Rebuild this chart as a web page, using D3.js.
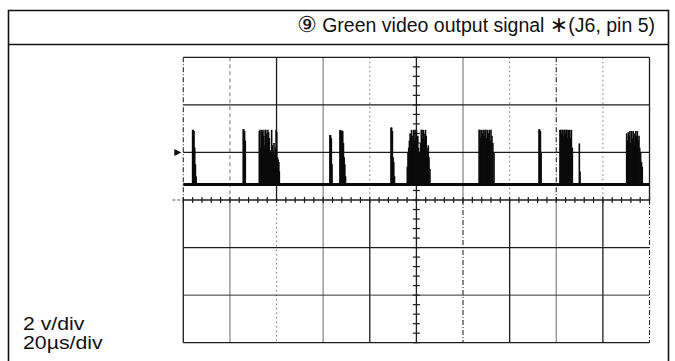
<!DOCTYPE html>
<html>
<head>
<meta charset="utf-8">
<script src="https://cdn.jsdelivr.net/npm/d3@7"></script>
<style>
  html, body { margin: 0; padding: 0; background: #fff; }
  svg { display: block; }
  text { font-family: "Liberation Sans", Arial, sans-serif; fill: #111; }
</style>
</head>
<body>
<svg id="scope" width="675" height="361"></svg>
<script>
// ---- Waveform data (time in µs, level in volts relative to the centre line) ----
const timeDomain = [0, 200];      // 10 div × 20 µs/div
const voltDomain = [-6, 6];       // 6 div × 2 V/div
const baselineVolts = 0.65;       // resting level of the trace
const markerVolts = 2;            // channel reference marker on the left edge

// isolated pulses: [t, peak]
const singlePulses = [
  [4.0, 2.95], [4.3, 2.95], [4.6, 2.9], [4.9, 2.2], [5.2, 1.5], [5.5, 1.0],
  [25.7, 2.98], [26.0, 2.98], [26.3, 2.9], [26.6, 2.5],
  [62.9, 2.73], [63.2, 2.73], [63.5, 2.6], [63.8, 1.5],
  [67.2, 2.94], [67.5, 2.94], [67.8, 2.85], [68.1, 2.92], [68.4, 2.9], [68.7, 2.4], [69.0, 1.8], [69.3, 1.5], [69.6, 1.0],
  [89.1, 3.05], [89.4, 3.05], [89.7, 2.9], [90.0, 1.8], [90.3, 1.6], [90.6, 1.0],
  [152.6, 2.97], [152.9, 2.97], [153.2, 2.9], [153.5, 2.0],
  [169.9, 2.38], [170.2, 1.2]
];

// dense bursts: [t, peak]
const burstA = [
  [32.6, 2.9], [32.9, 2.95], [33.3, 2.2], [33.6, 2.95], [33.9, 2.85], [34.2, 2.95], [34.5, 2.7],
  [34.8, 2.3], [35.1, 2.95], [35.4, 2.95], [35.7, 2.8], [36.0, 2.4], [36.3, 2.95], [36.6, 2.85],
  [36.9, 2.6], [37.2, 2.1], [37.5, 2.0], [37.9, 2.95], [38.2, 2.3], [38.6, 2.0], [38.9, 2.4],
  [39.2, 1.9], [39.5, 2.2], [39.8, 2.95], [40.1, 2.85], [40.4, 1.8], [40.7, 1.7], [41.0, 1.6], [41.2, 1.2]
];
const burstB = [
  [96.1, 1.4], [96.4, 2.0], [96.7, 2.2], [97.0, 2.5], [97.3, 2.8], [97.6, 2.6], [97.9, 2.95],
  [98.2, 2.4], [98.5, 2.7], [98.8, 2.95], [99.1, 2.5], [99.4, 2.95], [99.7, 2.6], [100.0, 2.95],
  [100.3, 2.3], [100.6, 2.7], [100.9, 2.2], [101.2, 2.0], [101.5, 1.9], [101.8, 2.4], [102.1, 2.95],
  [102.4, 2.95], [102.7, 2.6], [103.0, 2.95], [103.3, 2.8], [103.6, 2.5], [103.9, 2.95], [104.2, 2.7],
  [104.5, 2.2], [104.8, 2.0], [105.1, 2.3], [105.4, 1.8], [105.8, 1.3]
];
const burstC = [
  [126.9, 2.95], [127.3, 2.95], [127.6, 2.6], [128.0, 2.95], [128.3, 2.8], [128.7, 2.95],
  [129.1, 2.7], [129.4, 2.95], [129.8, 2.95], [130.2, 2.6], [130.5, 2.95], [130.9, 2.8],
  [131.3, 2.95], [131.6, 2.5], [132.0, 2.95], [132.4, 2.7], [132.8, 2.4], [133.3, 2.0]
];
const burstD = [
  [161.6, 2.95], [161.9, 2.95], [162.2, 2.8], [162.5, 2.95], [162.8, 2.95], [163.1, 2.7],
  [163.4, 2.95], [163.7, 2.95], [164.0, 2.8], [164.3, 2.95], [164.6, 2.95], [164.9, 2.6],
  [165.2, 2.95], [165.5, 2.8], [165.8, 2.95], [166.1, 2.6], [166.5, 2.95], [166.9, 2.2]
];
const burstE = [
  [190.2, 2.8], [190.6, 2.5], [190.9, 2.85], [191.3, 2.7], [191.6, 2.9], [192.0, 2.4],
  [192.3, 2.9], [192.7, 2.6], [193.0, 2.9], [193.4, 2.8], [193.7, 2.3], [194.1, 2.9],
  [194.4, 2.7], [194.8, 2.9], [195.1, 2.5], [195.5, 2.7], [195.8, 2.2], [196.2, 2.0],
  [196.6, 1.6], [196.9, 1.4]
];

// graticule line styles (upper half, lower half) for each vertical line; one per horizontal line
const verticalStyles = [
  ["dashDark", "solid"], ["dashGray", "gray"], ["solid", "dot"], ["gray", "gray"],
  ["dot", "solid"], ["solid", "solid"], ["gray", "dashDark"], ["dot", "solid"],
  ["dashDark", "gray"], ["dot", "solid"], ["solid", "dashDark"]
];
const horizontalStyles = ["solid", "solid", "solid", "solid", "solid", "solidThin", "solid"];

const titleText = "Green video output signal ";
const voltsLabel = "2 v/div";
const timeLabel = "20µs/div";

// ---- Drawing ----
const svg = d3.select("#scope");
const W = 675, H = 361;

const x = d3.scaleLinear().domain(timeDomain).range([183.3, 649.5]);
const y = d3.scaleLinear().domain(voltDomain).range([342.7, 57.3]);

const styleDefs = {
  solid:     { stroke: "#1c1c1c", width: 1.3, dash: null },
  solidThin: { stroke: "#333",    width: 1.0, dash: null },
  gray:      { stroke: "#8c8c8c", width: 1.3, dash: null },
  dashDark:  { stroke: "#2a2a2a", width: 1.1, dash: "5,2,1,2" },
  dashGray:  { stroke: "#8c8c8c", width: 1.2, dash: "4,3" },
  dot:       { stroke: "#777",    width: 1.0, dash: "1.5,3" }
};
function applyStyle(sel, key) {
  const s = styleDefs[key];
  sel.attr("stroke", s.stroke).attr("stroke-width", s.width)
     .attr("stroke-dasharray", s.dash);
}

svg.append("rect").attr("width", W).attr("height", H).attr("fill", "#fff");

// outer frame and title bar
const frame = svg.append("g").attr("fill", "none").attr("stroke", "#111").attr("stroke-width", 1.6);
frame.append("path").attr("d", `M8.5,${H + 2} V10.5 H668.5 V${H + 2}`);
frame.append("line").attr("x1", 8.5).attr("x2", 668.5).attr("y1", 44.5).attr("y2", 44.5);

// graticule
const grid = svg.append("g").attr("fill", "none");
const xDivs = d3.range(timeDomain[0], timeDomain[1] + 0.001, 20);
const yDivs = d3.range(voltDomain[0], voltDomain[1] + 0.001, 2);
xDivs.forEach((t, i) => {
  grid.append("line").attr("x1", x(t)).attr("x2", x(t)).attr("y1", y(6)).attr("y2", y(0))
      .call(applyStyle, verticalStyles[i][0]);
  grid.append("line").attr("x1", x(t)).attr("x2", x(t)).attr("y1", y(0)).attr("y2", y(-6))
      .call(applyStyle, verticalStyles[i][1]);
});
yDivs.slice().reverse().forEach((v, j) => {
  grid.append("line").attr("x1", x(0)).attr("x2", x(200)).attr("y1", y(v)).attr("y2", y(v))
      .call(applyStyle, horizontalStyles[j]);
});
// centre line stub to the left of the graticule
grid.append("line").attr("x1", x(0) - 11).attr("x2", x(0)).attr("y1", y(0)).attr("y2", y(0))
    .attr("stroke", "#555").attr("stroke-width", 1).attr("stroke-dasharray", "3,2");

// minor ticks on the centre axes (5 per division)
const ticks = svg.append("g").attr("stroke", "#1c1c1c").attr("stroke-width", 1.2);
d3.range(0, 200.001, 4).forEach(t => {
  ticks.append("line").attr("x1", x(t)).attr("x2", x(t)).attr("y1", y(0) - 3).attr("y2", y(0) + 3);
});
d3.range(-6, 6.001, 0.4).forEach(v => {
  ticks.append("line").attr("x1", x(100) - 3.5).attr("x2", x(100) + 3.5).attr("y1", y(v)).attr("y2", y(v));
});

// reference marker
svg.append("path")
  .attr("d", `M${x(0) - 9},${y(markerVolts) - 3.5} L${x(0) - 2},${y(markerVolts)} L${x(0) - 9},${y(markerVolts) + 3.5} Z`)
  .attr("fill", "#111");

// trace: resting level plus vertical pulse strokes
const trace = svg.append("g").attr("stroke", "#0a0a0a").attr("fill", "none");
const lineGen = d3.line().x(d => x(d[0])).y(d => y(d[1]));
trace.append("path").attr("d", lineGen([[timeDomain[0], baselineVolts], [timeDomain[1], baselineVolts]]))
     .attr("stroke-width", 3);
const spikes = [].concat(singlePulses, burstA, burstB, burstC, burstD, burstE);
trace.selectAll("line.spike").data(spikes).join("line").attr("class", "spike")
  .attr("x1", d => x(d[0])).attr("x2", d => x(d[0]))
  .attr("y1", y(baselineVolts)).attr("y2", d => y(d[1]))
  .attr("stroke-width", 1.6);

// title
const title = svg.append("text").attr("x", 655).attr("y", 32).attr("text-anchor", "end")
  .style("font-size", "19.5px");
title.append("tspan").style("font-family", "'DejaVu Sans', sans-serif").style("font-size", "22px").text("⑨");
title.append("tspan").text(" " + titleText);
title.append("tspan").style("font-family", "'DejaVu Sans', sans-serif").style("font-size", "22px").text("∗");
title.append("tspan").text("(J6, pin 5)");

// scale settings (slightly wide lettering)
const labels = svg.append("g").attr("transform", "translate(23,0) scale(1.15,1)");
labels.append("text").attr("x", 0).attr("y", 330).style("font-size", "18.5px").text(voltsLabel);
labels.append("text").attr("x", 0).attr("y", 349).style("font-size", "18.5px").text(timeLabel);
</script>
</body>
</html>
